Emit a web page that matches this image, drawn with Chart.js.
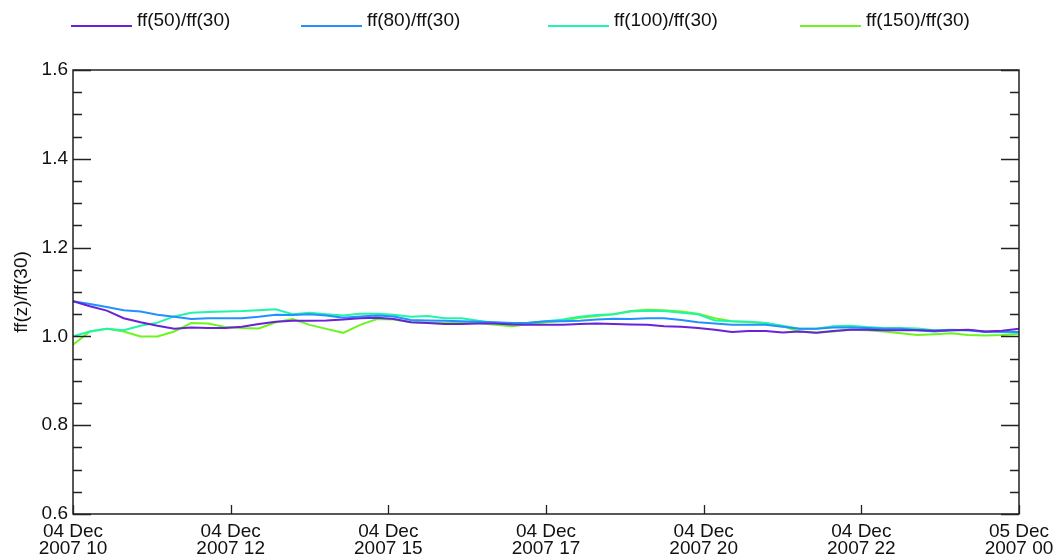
<!DOCTYPE html>
<html>
<head>
<meta charset="utf-8">
<script src="https://cdn.jsdelivr.net/npm/chart.js@4"></script>
<style>
  html, body { margin: 0; padding: 0; background: #fff; }
  #wrap { position: relative; width: 1063px; height: 560px; }
  #legend { position: absolute; left: 0; top: 0; width: 1063px; height: 40px; font-family: "Liberation Sans", Arial, sans-serif; font-size: 19px; color: #111; }
  .item { position: absolute; top: 9px; height: 22px; line-height: 22px; white-space: nowrap; }
  .swatch { position: absolute; top: 25px; height: 2px; width: 61px; }
</style>
</head>
<body>
<div id="wrap">
  <canvas id="c" width="1063" height="560"></canvas>
  <div id="legend"></div>
</div>
<script>
// ---- data ----
const times = ["10:00","10:15","10:30","10:45","11:00","11:15","11:30","11:45",
  "12:00","12:15","12:30","12:45","13:00","13:15","13:30","13:45",
  "14:00","14:15","14:30","14:45","15:00","15:15","15:30","15:45",
  "16:00","16:15","16:30","16:45","17:00","17:15","17:30","17:45",
  "18:00","18:15","18:30","18:45","19:00","19:15","19:30","19:45",
  "20:00","20:15","20:30","20:45","21:00","21:15","21:30","21:45",
  "22:00","22:15","22:30","22:45","23:00","23:15","23:30","23:45","24:00"];

const ff50 = [1.079,1.068,1.058,1.041,1.032,1.024,1.017,1.020,1.019,1.019,1.022,1.028,1.033,1.035,1.035,1.036,
  1.038,1.041,1.042,1.039,1.032,1.030,1.028,1.028,1.029,1.029,1.027,1.026,1.026,1.026,1.028,1.029,
  1.028,1.027,1.026,1.023,1.022,1.019,1.015,1.010,1.012,1.012,1.009,1.011,1.008,1.012,1.015,1.015,
  1.014,1.014,1.014,1.013,1.014,1.015,1.011,1.013,1.017];
const ff80 = [1.079,1.073,1.066,1.059,1.056,1.049,1.044,1.039,1.041,1.041,1.041,1.044,1.049,1.048,1.050,1.047,
  1.042,1.045,1.047,1.045,1.037,1.036,1.035,1.034,1.033,1.032,1.030,1.031,1.034,1.034,1.035,1.038,
  1.040,1.039,1.041,1.041,1.037,1.032,1.029,1.026,1.026,1.026,1.022,1.017,1.017,1.020,1.020,1.019,
  1.017,1.017,1.014,1.011,1.014,1.014,1.010,1.011,1.010];
const ff100 = [1.000,1.011,1.017,1.014,1.024,1.031,1.045,1.053,1.055,1.056,1.057,1.059,1.061,1.050,1.053,1.050,
  1.047,1.051,1.051,1.049,1.044,1.046,1.041,1.041,1.035,1.030,1.028,1.031,1.034,1.038,1.044,1.048,
  1.050,1.056,1.058,1.057,1.053,1.050,1.036,1.034,1.033,1.030,1.024,1.017,1.017,1.023,1.024,1.021,
  1.019,1.019,1.018,1.014,1.015,1.014,1.011,1.010,1.008];
const ff150 = [0.981,1.011,1.017,1.011,1.000,1.000,1.011,1.030,1.029,1.021,1.019,1.018,1.032,1.039,1.026,1.017,
  1.008,1.026,1.039,1.038,1.032,1.031,1.030,1.030,1.030,1.026,1.023,1.028,1.032,1.035,1.042,1.046,
  1.050,1.057,1.060,1.059,1.056,1.051,1.041,1.034,1.032,1.030,1.023,1.011,1.008,1.011,1.015,1.014,
  1.011,1.007,1.003,1.005,1.007,1.003,1.002,1.003,1.006];

const seriesNames = ["ff(50)/ff(30)", "ff(80)/ff(30)", "ff(100)/ff(30)", "ff(150)/ff(30)"];
const seriesColors = ["#6a22d6", "#2290ff", "#20f5a8", "#6cf520"];
const seriesValues = [ff50, ff80, ff100, ff150];

// x-axis ticks (hours since 04 Dec 00:00)
const xTickHours = [10, 12.3333, 14.6667, 17, 19.3333, 21.6667, 24];
const xTickLabels = [["04 Dec","2007 10"],["04 Dec","2007 12"],["04 Dec","2007 15"],["04 Dec","2007 17"],
  ["04 Dec","2007 20"],["04 Dec","2007 22"],["05 Dec","2007 00"]];
const yTitle = "ff(z)/ff(30)";

// legend layout
const legendLineX = [71, 301, 548, 800];

// ---- build ----
const hours = times.map(t => { const p = t.split(":"); return +p[0] + (+p[1]) / 60; });
const datasets = seriesValues.map((vals, i) => ({
  label: seriesNames[i],
  data: vals.map((v, j) => ({ x: hours[j], y: v })),
  borderColor: seriesColors[i],
  backgroundColor: seriesColors[i],
  borderWidth: 2,
  pointRadius: 0,
  tension: 0,
  fill: false
}));

// HTML legend
const leg = document.getElementById("legend");
seriesNames.forEach((n, i) => {
  const sw = document.createElement("div");
  sw.className = "swatch";
  sw.style.left = legendLineX[i] + "px";
  sw.style.background = seriesColors[i];
  leg.appendChild(sw);
  const lb = document.createElement("div");
  lb.className = "item";
  lb.style.left = (legendLineX[i] + 66) + "px";
  lb.textContent = n;
  leg.appendChild(lb);
});

const frameColor = "#222";
const framePlugin = {
  id: "frame",
  afterDatasetsDraw(chart) {
    const ctx = chart.ctx;
    const a = chart.chartArea;
    const ys = chart.scales.y, xs = chart.scales.x;
    ctx.save();
    ctx.strokeStyle = frameColor;
    ctx.lineWidth = 1.5;
    ctx.beginPath();
    ctx.rect(a.left, a.top, a.right - a.left, a.bottom - a.top);
    ctx.stroke();
    ctx.lineWidth = 1.3;
    ctx.beginPath();
    ys.ticks.forEach(t => {
      const py = Math.round(ys.getPixelForValue(t.value)) + 0.5;
      const major = Math.abs(t.value * 5 - Math.round(t.value * 5)) < 1e-6;
      const len = major ? 18 : 9;
      ctx.moveTo(a.left, py); ctx.lineTo(a.left + len, py);
      ctx.moveTo(a.right, py); ctx.lineTo(a.right - len, py);
    });
    xs.ticks.forEach(t => {
      const px = Math.round(xs.getPixelForValue(t.value)) + 0.5;
      ctx.moveTo(px, a.bottom); ctx.lineTo(px, a.bottom - 9);
    });
    ctx.stroke();
    ctx.restore();
  }
};

const font = { family: "'Liberation Sans', Arial, sans-serif", size: 19 };

new Chart(document.getElementById("c"), {
  type: "line",
  data: { datasets },
  plugins: [framePlugin],
  options: {
    responsive: false,
    animation: false,
    devicePixelRatio: 1,
    layout: { padding: { top: 70, right: 44, left: 0, bottom: 0 } },
    plugins: { legend: { display: false }, tooltip: { enabled: false } },
    scales: {
      x: {
        type: "linear",
        min: 10, max: 24,
        afterBuildTicks: s => { s.ticks = xTickHours.map(v => ({ value: v })); },
        afterFit: s => { s.height = 46; },
        grid: { display: false, drawTicks: false },
        border: { display: false },
        ticks: {
          autoSkip: false, maxRotation: 0, minRotation: 0, padding: 9,
          color: "#111",
          font: Object.assign({ lineHeight: 0.9 }, font),
          callback: (v, i) => xTickLabels[i]
        }
      },
      y: {
        min: 0.6, max: 1.6,
        afterBuildTicks: s => {
          const arr = [];
          for (let k = 0; k <= 20; k++) arr.push({ value: +(0.6 + k * 0.05).toFixed(2) });
          s.ticks = arr;
        },
        afterFit: s => { s.width = 73; },
        grid: { display: false, drawTicks: false },
        border: { display: false },
        title: { display: true, text: yTitle, color: "#111", font: font, padding: { top: 10, bottom: 0 } },
        ticks: {
          autoSkip: false, padding: 5, color: "#111", font: font,
          callback: (v) => {
            const m = Math.abs(v * 5 - Math.round(v * 5)) < 1e-6;
            return m ? v.toFixed(1) : "";
          }
        }
      }
    }
  }
});
</script>
</body>
</html>
